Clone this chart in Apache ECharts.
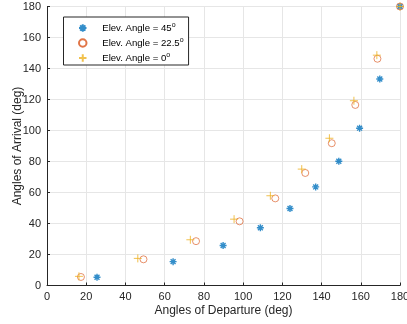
<!DOCTYPE html>
<html>
<head>
<meta charset="utf-8">
<script src="https://cdn.jsdelivr.net/npm/echarts@6/dist/echarts.min.js"></script>
<style>
  html, body { margin: 0; padding: 0; background: #fff; }
  #chart { width: 407px; height: 324px; }
</style>
</head>
<body>
<div id="chart"></div>
<script>
// ---- Data ----
const elevLabels = ['45', '22.5', '0'];
const aod45 = [25.5, 64.3, 89.8, 108.8, 123.9, 137.0, 148.8, 159.4, 169.7, 180];
const aoa45 = [5.3, 15.4, 25.8, 37.3, 49.7, 63.6, 80.2, 101.5, 133.2, 180];
const aod22 = [17.3, 49.2, 76.0, 98.2, 116.4, 131.7, 145.2, 157.2, 168.5, 180];
const aoa22 = [5.5, 16.9, 28.6, 41.4, 56.2, 72.6, 91.8, 116.5, 146.3, 180];
const aod0 = [16.3, 46.3, 73.1, 95.4, 113.9, 129.9, 144.0, 156.5, 168.2, 180];
const aoa0 = [5.9, 17.5, 29.5, 42.8, 57.9, 75.1, 95.0, 119.2, 148.6, 180];
const xTicks = [0, 20, 40, 60, 80, 100, 120, 140, 160, 180];
const yTicks = [0, 20, 40, 60, 80, 100, 120, 140, 160, 180];

const pairs = (xs, ys) => xs.map((x, i) => [x, ys[i]]);

const axisColor = '#262626';
const gridColor = '#e6e6e6';
const fontFam = '"Liberation Sans", Arial, Helvetica, sans-serif';

const starPath = 'path://M0,-1L0,1M-1,0L1,0M-0.7,-0.7L0.7,0.7M-0.7,0.7L0.7,-0.7';
const plusPath = 'path://M0,-1L0,1M-1,0L1,0';
const circlePath = 'path://M1,0A1,1,0,1,1,-1,0A1,1,0,1,1,1,0Z';

const chart = echarts.init(document.getElementById('chart'), null, { renderer: 'canvas' });

function axisCommon(name, nameGap, rotate, ticks) {
  return {
    type: 'value',
    min: ticks[0],
    max: ticks[ticks.length - 1],
    interval: ticks[1] - ticks[0],
    name: name,
    nameLocation: 'middle',
    nameGap: nameGap,
    nameRotate: rotate,
    nameMoveOverlap: false,
    nameTextStyle: { color: axisColor, fontSize: 12, fontFamily: fontFam },
    axisLine: { show: true, onZero: false, lineStyle: { color: axisColor, width: 1 } },
    axisTick: { show: true, inside: true, length: 3, lineStyle: { color: axisColor, width: 1 } },
    axisLabel: { color: axisColor, fontSize: 11, fontFamily: fontFam, margin: 6 },
    splitLine: { show: true, lineStyle: { color: gridColor, width: 1 } }
  };
}

const names = elevLabels.map(v => 'Elev. Angle = ' + v);

chart.setOption({
  animation: false,
  backgroundColor: '#fff',
  grid: { left: 47, right: 7, top: 6.5, bottom: 38.5, containLabel: false, outerBoundsMode: 'none' },
  xAxis: axisCommon('Angles of Departure (deg)', 19, 0, xTicks),
  yAxis: axisCommon('Angles of Arrival (deg)', 23, 90, yTicks),
  legend: {
    orient: 'vertical',
    left: 63.5,
    top: 17,
    padding: [5, 5, 2, 14.5],
    itemWidth: 29,
    itemHeight: 7.5,
    itemGap: 4,
    borderColor: axisColor,
    borderWidth: 1,
    backgroundColor: '#fff',
    data: names,
    formatter: function (name) { return '{t|' + name + '}{s|o}'; },
    textStyle: {
      color: '#000',
      fontFamily: fontFam,
      rich: {
        t: { fontSize: 9.6, lineHeight: 12, fontFamily: fontFam, color: '#000' },
        s: { fontSize: 7, lineHeight: 8, verticalAlign: 'top', fontFamily: fontFam, color: '#000' }
      }
    }
  },
  series: [
    {
      name: names[0], type: 'scatter', clip: false,
      symbol: starPath, symbolSize: 7,
      itemStyle: { color: '#0072BD', borderColor: '#0072BD', borderWidth: 1.4 },
      data: pairs(aod45, aoa45)
    },
    {
      name: names[1], type: 'scatter', clip: false,
      symbol: circlePath, symbolSize: 7,
      itemStyle: { color: 'rgba(0,0,0,0)', borderColor: '#D95319', borderWidth: 0.8 },
      data: pairs(aod22, aoa22)
    },
    {
      name: names[2], type: 'scatter', clip: false,
      symbol: plusPath, symbolSize: 8,
      itemStyle: { color: '#EDB120', borderColor: '#EDB120', borderWidth: 1 },
      data: pairs(aod0, aoa0)
    }
  ]
});
</script>
</body>
</html>
